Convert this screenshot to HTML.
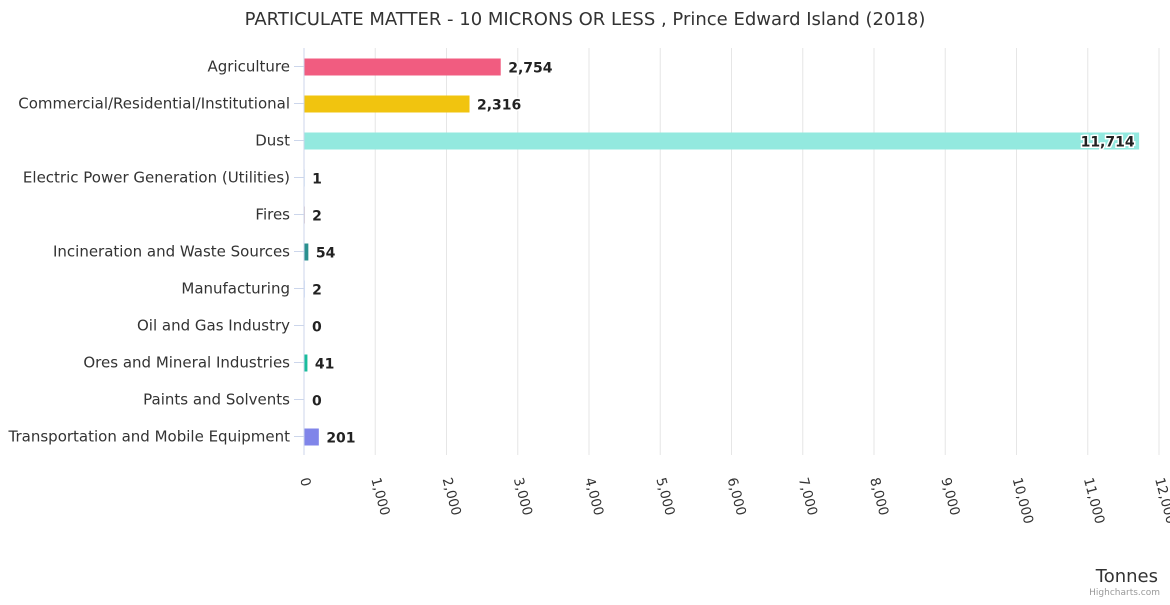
<!DOCTYPE html>
<html><head><meta charset="utf-8"><style>
body{margin:0;background:#fff;font-family:"Liberation Sans","DejaVu Sans",sans-serif}
svg text{font-family:"DejaVu Sans","Liberation Sans",sans-serif}
</style></head><body>
<svg id="chart" width="1170" height="600" xmlns="http://www.w3.org/2000/svg">
<text x="585" y="25" text-anchor="middle" font-size="18" fill="#333">PARTICULATE MATTER - 10 MICRONS OR LESS , Prince Edward Island (2018)</text>
<g id="grid"></g><g id="bars"></g><g id="labels"></g>
<text x="1158" y="582" text-anchor="end" font-size="18" fill="#333">Tonnes</text>
<text x="1160" y="595" text-anchor="end" font-size="9" fill="#999">Highcharts.com</text>
</svg>
<script>
const categories=["Agriculture","Commercial/Residential/Institutional","Dust","Electric Power Generation (Utilities)","Fires","Incineration and Waste Sources","Manufacturing","Oil and Gas Industry","Ores and Mineral Industries","Paints and Solvents","Transportation and Mobile Equipment"];
const values=[2754,2316,11714,1,2,54,2,0,41,0,201];
const valueLabels=["2,754","2,316","11,714","1","2","54","2","0","41","0","201"];
const colors=["#f15c80","#f1c40f","#93e9df","#2f7ed8","#8d4654","#2b908f","#77a1e5","#c42525","#1abc9c","#a6c96a","#8085e9"];
const ticks=[0,1000,2000,3000,4000,5000,6000,7000,8000,9000,10000,11000,12000];
const NS="http://www.w3.org/2000/svg";
const x0=304,x1=1159,plotTop=48,plotBottom=455,band=(plotBottom-plotTop)/categories.length;
const xs=v=>x0+v/12000*(x1-x0);
const yc=i=>plotTop+band*(i+0.5);
function mk(t,a,p){const e=document.createElementNS(NS,t);for(const k in a)e.setAttribute(k,a[k]);p.appendChild(e);return e;}
const g=document.getElementById('grid'),b=document.getElementById('bars'),l=document.getElementById('labels');
ticks.forEach((t,i)=>{
 if(t>0){const ln=mk('line',{x1:xs(t),x2:xs(t),y1:plotTop,y2:plotBottom,stroke:'#e6e6e6'},g);
 
 }
 const x=xs(t)-4,y=479;
 const tx=mk('text',{x:x,y:y,'font-size':13.5,fill:'#333',transform:`rotate(75 ${x} ${y})`},l);
 tx.textContent=t.toLocaleString('en-US');
 
 
});
const ax=mk('line',{x1:x0,x2:x0,y1:plotTop,y2:plotBottom,stroke:'#ccd6eb'},g);


categories.forEach((c,i)=>{
 const y=yc(i);
 mk('line',{x1:x0-10,x2:x0,y1:y,y2:y,stroke:'#ccd6eb'},g);
 const ct=mk('text',{x:x0-14,y:y+5,'text-anchor':'end','font-size':15,fill:'#333'},l);
 ct.textContent=c;
 
 
 const w=xs(values[i])-x0;
 const r=mk('rect',{x:x0+0.5,y:y-8,width:w,height:17,fill:colors[i]},b);
 
 
 const inside=xs(values[i])>x1-60;
 const vx=inside?xs(values[i])-4:x0+w+8;
 const vt=mk('text',{x:vx,y:y+6,'text-anchor':inside?'end':'start','font-size':14,'font-weight':'bold',fill:'#222',stroke:'#fff','stroke-width':3,'paint-order':'stroke'},l);
 vt.textContent=valueLabels[i];
 
 
});
</script>
</body></html>
